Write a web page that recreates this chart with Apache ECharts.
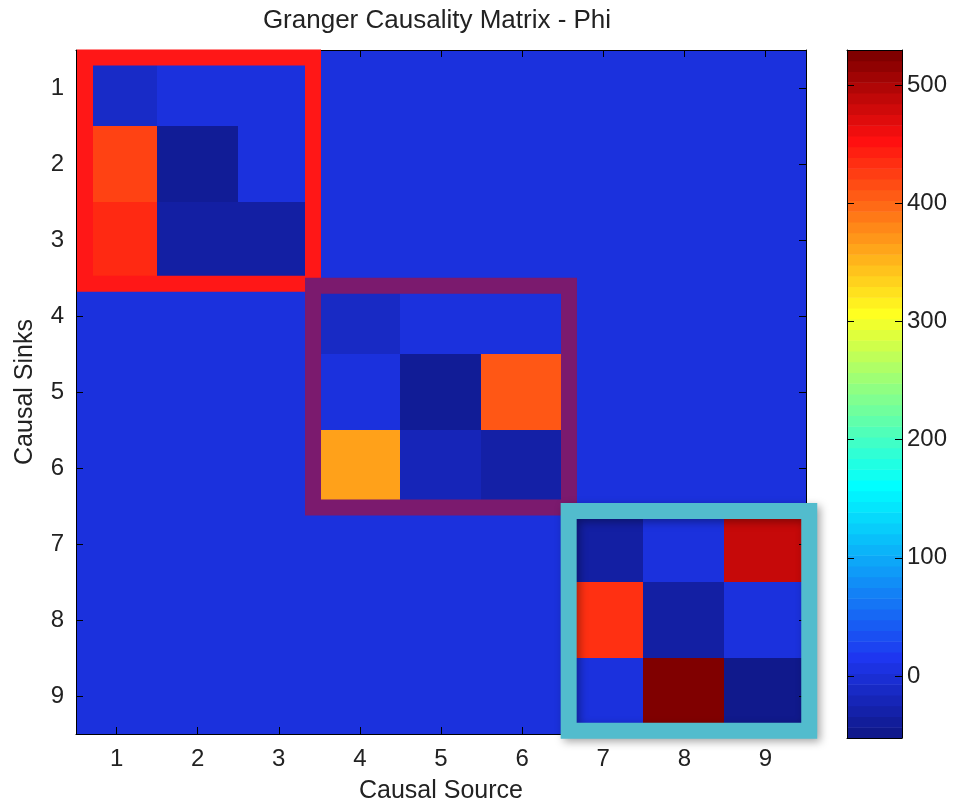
<!DOCTYPE html>
<html>
<head>
<meta charset="utf-8">
<script src="https://cdn.jsdelivr.net/npm/echarts@6/dist/echarts.min.js"></script>
<style>
html,body{margin:0;padding:0;background:#fff;}
#chart{width:953px;height:809px;}
</style>
</head>
<body>
<div id="chart"></div>
<script>
// ---- data ----
const sources = ['1','2','3','4','5','6','7','8','9'];   // causal source (columns)
const sinks   = ['1','2','3','4','5','6','7','8','9'];   // causal sinks (rows)
// rows = sinks 1..9, columns = sources 1..9
const phiRow1 = [-14,   0,   0,   0,   0,   0,   0,     0,     0];
const phiRow2 = [425, -46,   0,   0,   0,   0,   0,     0,     0];
const phiRow3 = [440, -38, -38,   0,   0,   0,   0,     0,     0];
const phiRow4 = [  0,   0,   0, -16,   0,   0,   0,     0,     0];
const phiRow5 = [  0,   0,   0,   0, -46, 412,   0,     0,     0];
const phiRow6 = [  0,   0,   0, 366, -24, -36,   0,     0,     0];
const phiRow7 = [  0,   0,   0,   0,   0,   0, -38,     0,   489];
const phiRow8 = [  0,   0,   0,   0,   0,   0, 436,   -38,     0];
const phiRow9 = [  0,   0,   0,   0,   0,   0,   0, 529.6, -52.5];
const phi = [phiRow1, phiRow2, phiRow3, phiRow4, phiRow5, phiRow6, phiRow7, phiRow8, phiRow9];

// highlight boxes in axis units: [xFrom, xTo, yFrom, yTo]
const boxRanges = [[0.611, 3.422, 0.599, 3.571], [3.422, 6.578, 3.597, 6.511], [6.574, 9.540, 6.557, 9.445]];
const boxColors = ['#ff1717', '#7b1a6e', '#52bccd'];

const colorbarTicks = [0, 100, 200, 300, 400, 500];

// jet-like colormap anchors (index in 64-level map, colour)
const cmapAnchorIdx = [0, 7, 23, 39, 55, 63];
const cmapAnchorCol = ['#10198c', '#1e36f0', '#00ffff', '#ffff20', '#ff1010', '#800000'];

// ---- build ----
function hex2rgb(h){return [parseInt(h.substr(1,2),16),parseInt(h.substr(3,2),16),parseInt(h.substr(5,2),16)];}
function rgb2hex(c){return '#'+c.map(v=>Math.round(v).toString(16).padStart(2,'0')).join('');}
const cmap = [];
for (let i = 0; i < 64; i++) {
  let k = 0;
  while (k < cmapAnchorIdx.length - 2 && i > cmapAnchorIdx[k+1]) k++;
  const a = cmapAnchorIdx[k], b = cmapAnchorIdx[k+1];
  const t = (i - a) / (b - a);
  const ca = hex2rgb(cmapAnchorCol[k]), cb = hex2rgb(cmapAnchorCol[k+1]);
  cmap.push(rgb2hex(ca.map((v, j) => v + (cb[j] - v) * t)));
}
const flat = phi.flat();
const cMin = Math.min(...flat), cMax = Math.max(...flat);

const heatData = [];
phi.forEach((row, r) => row.forEach((v, c) => heatData.push([c, r, v])));

const stripes = cmap.map((col, i) => [cMin + (cMax - cMin) * i / 64, cMin + (cMax - cMin) * (i + 1) / 64]);

const FONT = "'Liberation Sans', Arial, sans-serif";
const TXT = '#222';

const chart = echarts.init(document.getElementById('chart'), null, {renderer: 'canvas'});
const catAxisCommon = {
  type: 'category', gridIndex: 0, z: 5,
  axisLine: {show: true, onZero: false, lineStyle: {color: '#000', width: 1}},
  axisTick: {show: true, inside: true, length: 7, alignWithLabel: true, lineStyle: {color: '#000'}},
  splitLine: {show: false}
};
const cbLine = {show: true, onZero: false, lineStyle: {color: '#000'}};
chart.setOption({
  animation: false,
  backgroundColor: '#fff',
  title: {
    text: 'Granger Causality Matrix - Phi', left: 437, top: 8, padding: 0, textAlign: 'center',
    textStyle: {fontFamily: FONT, fontSize: 26, fontWeight: 'normal', color: TXT}
  },
  grid: [
    {left: 76, top: 50, width: 730, height: 685},
    {left: 76, top: 50, width: 730, height: 685},
    {left: 847, top: 50, width: 55, height: 688}
  ],
  xAxis: [
    Object.assign({}, catAxisCommon, {position: 'bottom', data: sources,
      axisLabel: {fontFamily: FONT, fontSize: 24, color: TXT, margin: 13},
      name: 'Causal Source', nameLocation: 'middle', nameGap: 45,
      nameTextStyle: {fontFamily: FONT, fontSize: 25, color: TXT}}),
    Object.assign({}, catAxisCommon, {position: 'top', data: sources, axisLabel: {show: false}}),
    {type: 'value', gridIndex: 1, min: 0.5, max: 9.5, show: false},
    {type: 'value', gridIndex: 2, min: 0, max: 1, position: 'bottom', z: 5,
      axisLine: cbLine, axisTick: {show: false}, axisLabel: {show: false}, splitLine: {show: false}},
    {type: 'value', gridIndex: 2, min: 0, max: 1, position: 'top', z: 5,
      axisLine: cbLine, axisTick: {show: false}, axisLabel: {show: false}, splitLine: {show: false}}
  ],
  yAxis: [
    Object.assign({}, catAxisCommon, {position: 'left', data: sinks, inverse: true,
      axisLabel: {fontFamily: FONT, fontSize: 24, color: TXT, margin: 12},
      name: 'Causal Sinks', nameLocation: 'middle', nameGap: 38, nameRotate: 90,
      nameTextStyle: {fontFamily: FONT, fontSize: 25, color: TXT}}),
    Object.assign({}, catAxisCommon, {position: 'right', data: sinks, inverse: true, axisLabel: {show: false}}),
    {type: 'value', gridIndex: 1, min: 0.5, max: 9.5, inverse: true, show: false},
    {type: 'value', gridIndex: 2, min: cMin, max: cMax, position: 'left', z: 5,
      axisLine: cbLine,
      axisTick: {show: true, inside: true, length: 7, lineStyle: {color: '#000'}},
      axisLabel: {show: false}, splitLine: {show: false}},
    {type: 'value', gridIndex: 2, min: cMin, max: cMax, position: 'right', z: 5,
      axisLine: cbLine,
      axisTick: {show: true, inside: true, length: 7, lineStyle: {color: '#000'}},
      axisLabel: {fontFamily: FONT, fontSize: 24, color: TXT, margin: 5,
        formatter: v => colorbarTicks.indexOf(Math.round(v * 1000) / 1000) >= 0 ? String(v) : ''},
      splitLine: {show: false}}
  ],
  visualMap: {
    type: 'continuous', show: false, seriesIndex: 0, dimension: 2,
    min: cMin, max: cMax, inRange: {color: cmap}
  },
  series: [
    {type: 'custom', xAxisIndex: 0, yAxisIndex: 0, data: heatData, z: 2, silent: true,
      renderItem: function (params, api) {
        const c = api.coord([api.value(0), api.value(1)]);
        const s = api.size([1, 1]);
        const x0 = Math.floor(c[0] - s[0] / 2), x1 = Math.ceil(c[0] + s[0] / 2);
        const y0 = Math.floor(c[1] - s[1] / 2), y1 = Math.ceil(c[1] + s[1] / 2);
        return {type: 'rect', shape: {x: x0, y: y0, width: x1 - x0, height: y1 - y0},
          style: {fill: api.visual('color')}};
      }},
    {type: 'custom', xAxisIndex: 2, yAxisIndex: 2, z: 10, silent: true,
      data: boxRanges,
      renderItem: function (params, api) {
        const p1 = api.coord([api.value(0), api.value(2)]);
        const p2 = api.coord([api.value(1), api.value(3)]);
        const i = params.dataIndex;
        const style = {fill: 'none', stroke: boxColors[i], lineWidth: 16, lineJoin: 'miter'};
        if (i === 2) { style.shadowBlur = 8; style.shadowOffsetX = 3; style.shadowOffsetY = 3; style.shadowColor = 'rgba(0,0,0,0.35)'; }
        return {type: 'rect', shape: {x: Math.min(p1[0], p2[0]), y: Math.min(p1[1], p2[1]),
          width: Math.abs(p2[0] - p1[0]), height: Math.abs(p2[1] - p1[1])}, style: style};
      }},
    {type: 'custom', xAxisIndex: 3, yAxisIndex: 3, z: 2, silent: true,
      data: stripes,
      renderItem: function (params, api) {
        const p1 = api.coord([0, api.value(1)]);
        const p2 = api.coord([1, api.value(0)]);
        return {type: 'rect', shape: {x: p1[0], y: p1[1], width: p2[0] - p1[0], height: p2[1] - p1[1] + 0.5},
          style: {fill: cmap[params.dataIndex]}};
      }}
  ]
});
</script>
</body>
</html>
